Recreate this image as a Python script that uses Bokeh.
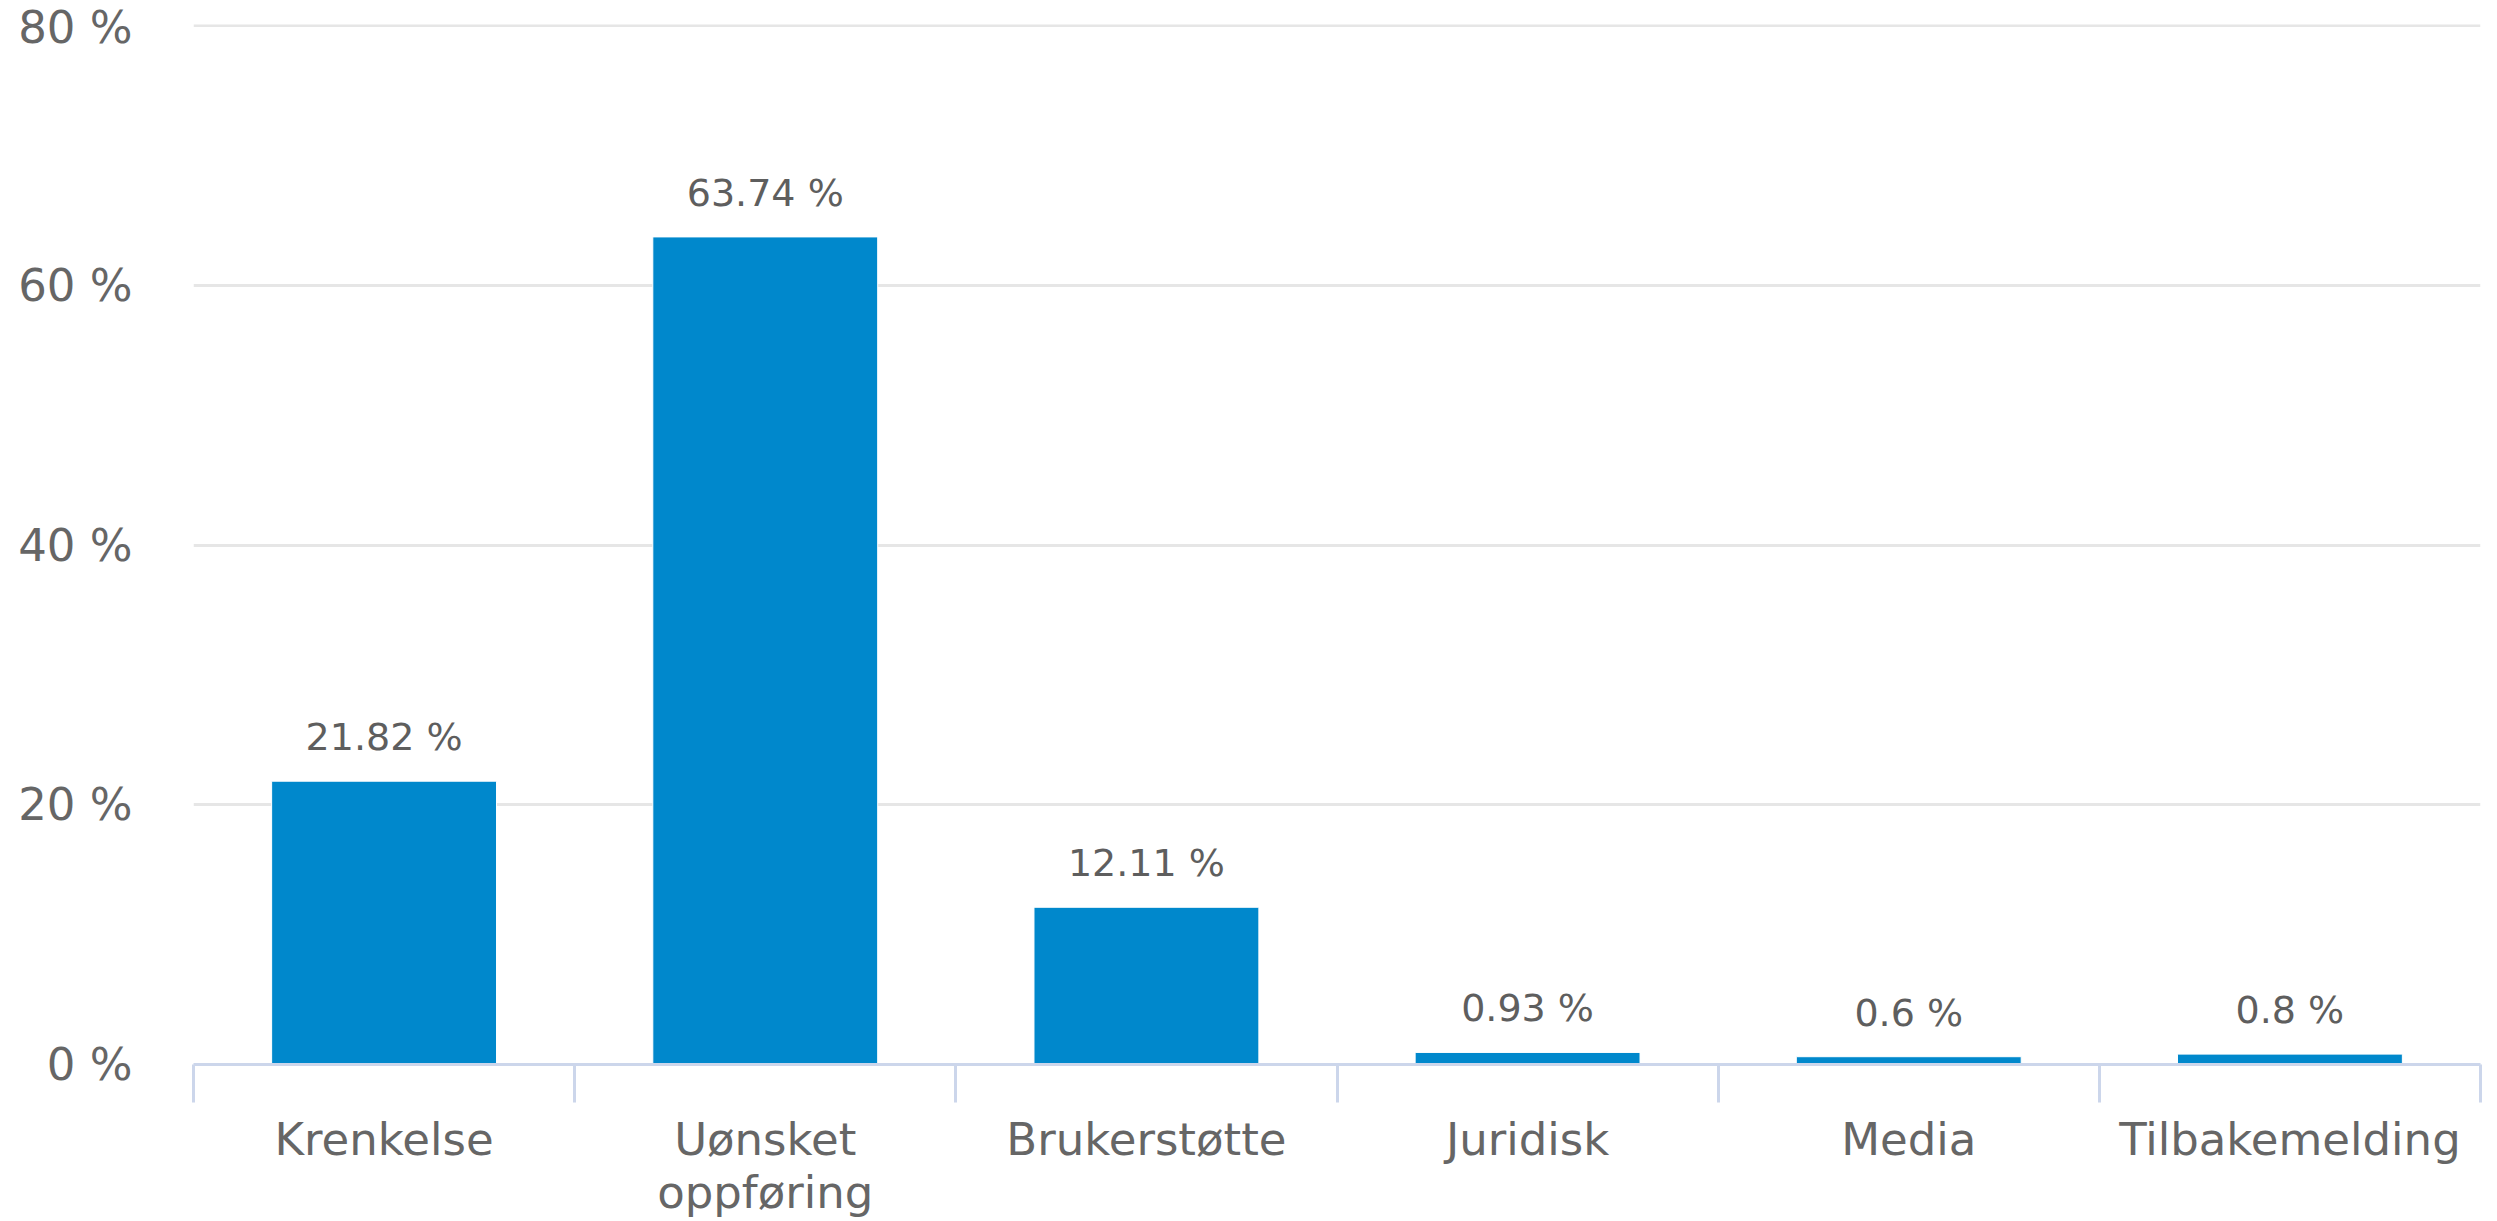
from bokeh.plotting import figure
from bokeh.models import Range1d, FixedTicker, ColumnDataSource
from bokeh.embed import file_html
from bokeh.resources import INLINE
from bokeh.core.properties import value

categories = ["Krenkelse", "Uønsket\noppføring", "Brukerstøtte", "Juridisk", "Media", "Tilbakemelding"]
values = [21.82, 63.74, 12.11, 0.93, 0.6, 0.8]
value_labels = ["21.82 %", "63.74 %", "12.11 %", "0.93 %", "0.6 %", "0.8 %"]
y_ticks = [0, 20, 40, 60, 80]
y_tick_labels = ["0 %", "20 %", "40 %", "60 %", "80 %"]

FONT = "DejaVu Sans"
n = len(categories)
centers = [i + 0.5 for i in range(n)]
boundaries = list(range(n + 1))

src = ColumnDataSource(dict(x=centers, top=values, label=value_labels))

p = figure(width=2497, height=1221, output_backend="svg", toolbar_location=None,
           x_range=Range1d(0, n), y_range=Range1d(0, 80.1),
           min_border_left=193, min_border_right=17, min_border_top=24, min_border_bottom=156)
p.outline_line_color = None
p.background_fill_color = "white"
p.border_fill_color = "white"

p.vbar(x="x", top="top", width=0.59, bottom=0, source=src,
       fill_color="#0088cc", line_color="#ffffff", line_width=1)

p.text(x="x", y="top", text="label", source=src, text_align="center",
       text_baseline="alphabetic", y_offset=-44, text_color="#5e5e5e",
       text_font=value(FONT), text_font_size="38px")

# y axis
yax = p.yaxis[0]
yax.ticker = FixedTicker(ticks=y_ticks)
yax.major_label_overrides = {t: l for t, l in zip(y_ticks, y_tick_labels)}
yax.axis_line_color = None
yax.major_tick_line_color = None
yax.minor_tick_line_color = None
yax.major_tick_out = 0
yax.major_tick_in = 0
yax.major_label_standoff = 61
yax.major_label_text_font = FONT
yax.major_label_text_font_size = "45px"
yax.major_label_text_color = "#666666"

# x axis: labels at centres, ticks at category boundaries
xax = p.xaxis[0]
xax.ticker = FixedTicker(ticks=centers, minor_ticks=boundaries)
xax.major_label_overrides = {c: l for c, l in zip(centers, categories)}
xax.axis_line_color = "#ccd6eb"
xax.axis_line_width = 3
xax.major_tick_line_color = None
xax.major_tick_out = 0
xax.major_tick_in = 0
xax.minor_tick_line_color = "#ccd6eb"
xax.minor_tick_line_width = 3
xax.minor_tick_out = 38
xax.minor_tick_in = 0
xax.major_label_standoff = 10
xax.major_label_text_font = FONT
xax.major_label_text_font_size = "45px"
xax.major_label_text_line_height = 1.0
xax.major_label_text_color = "#666666"

p.xgrid.grid_line_color = None
p.ygrid.ticker = FixedTicker(ticks=y_ticks)
p.ygrid.grid_line_color = "#e6e6e6"
p.ygrid.grid_line_width = 3

open("out.html", "w").write(file_html(p, INLINE))
